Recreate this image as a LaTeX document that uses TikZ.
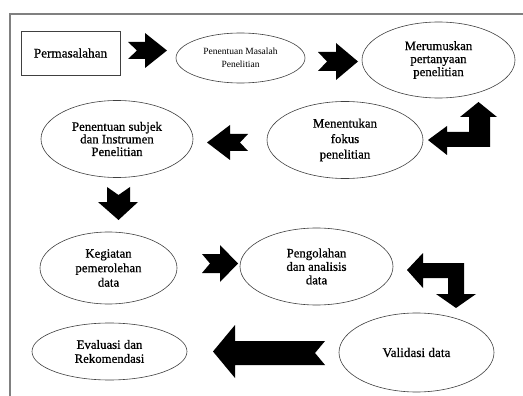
\documentclass[tikz,border=0pt]{standalone}
\usepackage{fontspec}
\setmainfont{Liberation Serif}
\newfontfamily\thickserif[FakeBold=0.7]{Liberation Serif}
\usetikzlibrary{shapes.geometric}
\newcommand{\txt}[1]{\thickserif\fontsize{12.8}{#1}\selectfont}
\begin{document}
\begin{tikzpicture}[x=1pt,y=-1pt,
  oval/.style={draw=black!75,line width=0.6pt,ellipse,inner sep=0pt,align=center,font=\txt{13}},
  boxnode/.style={draw=black!75,line width=0.6pt,rectangle,inner sep=0pt,align=center,font=\thickserif\fontsize{13.2}{13}\selectfont},
  blockarrow/.style={fill=black,draw=none}]
\useasboundingbox (0,0) rectangle (523,396);
\fill[white] (0,0) rectangle (523,396);
% frame
\draw[gray,line width=1.2pt] (10,396) -- (10,14) -- (523,14);
% nodes
\node[boxnode,minimum width=99pt,minimum height=44pt] (perm) at (70.5,53) {Permasalahan};
\node[oval,minimum width=129pt,minimum height=50pt,font=\fontsize{9.5}{12.5}\selectfont] (masalah) at (240.5,58) {Penentuan Masalah\\Penelitian};
\node[oval,minimum width=153pt,minimum height=76pt,font=\txt{13}] (rumus) at (438.5,60) {Merumuskan\\pertanyaan\\penelitian};
\node[oval,minimum width=152pt,minimum height=77pt,font=\txt{12.6}] (subjek) at (117,139) {Penentuan subjek\\dan Instrumen\\Penelitian};
\node[oval,minimum width=156pt,minimum height=77pt,font=\txt{15.5}] (fokus) at (345,140) {Menentukan\\fokus\\penelitian};
\node[oval,minimum width=137pt,minimum height=72pt,font=\txt{14.5}] (kegiatan) at (108.5,268) {Kegiatan\\pemerolehan\\data};
\node[oval,minimum width=153pt,minimum height=77pt,font=\txt{13.5}] (olah) at (316.5,266.5) {Pengolahan\\dan analisis\\data};
\node[oval,minimum width=155pt,minimum height=79pt,font=\thickserif\fontsize{13.2}{13}\selectfont] (valid) at (416.5,352.5) {Validasi data};
\node[oval,minimum width=155pt,minimum height=57pt,font=\txt{14}] (eval) at (109.5,351.5) {Evaluasi dan\\Rekomendasi};
% block arrows
% perm -> masalah
\fill[blockarrow] (128,42) -- (145,42) -- (145,33) -- (167,50.5) -- (145,68) -- (145,59) -- (128,59) -- (137,50.5) -- cycle;
% masalah -> rumus
\fill[blockarrow] (318,52) -- (336,52) -- (336,43) -- (358,61.5) -- (336,80) -- (336,71) -- (318,71) -- (327,61.5) -- cycle;
% rumus -> fokus (bent)
\fill[blockarrow] (478.5,102) -- (497,117) -- (490,117) -- (490,147) -- (447,147) -- (447,155) -- (428,140) -- (447,126) -- (447,132) -- (469,132) -- (469,117) -- (460,117) -- cycle;
% fokus -> subjek
\fill[blockarrow] (207,142.5) -- (230,125) -- (230,134) -- (248,134) -- (240,142.5) -- (248,151) -- (230,151) -- (230,160) -- cycle;
% subjek -> kegiatan
\fill[blockarrow] (107,187) -- (118.5,195) -- (130,187) -- (130,202) -- (138,202) -- (118.5,220) -- (98,202) -- (107,202) -- cycle;
% kegiatan -> olah
\fill[blockarrow] (202,254) -- (220,254) -- (220,245) -- (238,263.5) -- (220,282) -- (220,273) -- (202,273) -- (210,263.5) -- cycle;
% olah -> valid (bent)
\fill[blockarrow] (407,270) -- (423,253) -- (423,263) -- (464,263) -- (464,294) -- (476,294) -- (456,308) -- (436,294) -- (448,294) -- (448,278) -- (423,278) -- (423,288) -- cycle;
% valid -> eval
\fill[blockarrow] (213,351.5) -- (235,325) -- (235,341) -- (325,341) -- (315,353) -- (325,365) -- (235,365) -- (235,378) -- cycle;
\end{tikzpicture}
\end{document}
